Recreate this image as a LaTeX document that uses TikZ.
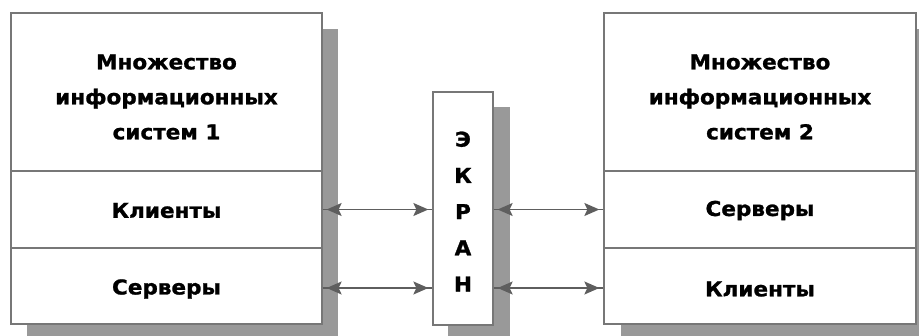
\documentclass[tikz,border=0pt]{standalone}
\usepackage{fontspec}
\newfontfamily\dvs[FakeStretch=1.05,FakeBold=1.2]{DejaVu Sans}
\usetikzlibrary{arrows.meta}
\definecolor{bordergray}{HTML}{777777}
\definecolor{shadowgray}{HTML}{999999}
\definecolor{arrowgray}{HTML}{5E5E5E}
\tikzset{
  cell/.style={draw=bordergray, line width=1.3pt, fill=white, rectangle, inner sep=0pt},
  lbl/.style={font=\dvs\bfseries\fontsize{20.5}{35}\selectfont, align=center, inner sep=0pt},
  conn/.style={draw=arrowgray, line width=1.4pt},
  tips/.style={draw=arrowgray, line width=1.4pt,
    {Stealth[length=15pt,width=13pt,inset=3pt,fill=arrowgray]}-{Stealth[length=15pt,width=13pt,inset=3pt,fill=arrowgray]},
    shorten <=4pt, shorten >=4pt}
}
\begin{document}
\begin{tikzpicture}[x=1pt,y=-1pt]
\useasboundingbox (0,0) rectangle (919,336);
\begin{scope}
\clip (0,0) rectangle (919,336);
% shadows
\fill[shadowgray] (27,29) rectangle (338,342);
\fill[shadowgray] (448,107) rectangle (510,342);
\fill[shadowgray] (621,29) rectangle (932,342);
\end{scope}
% left box
\node[cell, minimum width=311pt, minimum height=158pt] (L1) at (166.5,92) {};
\node[cell, minimum width=311pt, minimum height=77pt] (L2) at (166.5,209.5) {};
\node[cell, minimum width=311pt, minimum height=76pt] (L3) at (166.5,286) {};
% right box
\node[cell, minimum width=312pt, minimum height=158pt] (R1) at (760,92) {};
\node[cell, minimum width=312pt, minimum height=77pt] (R2) at (760,209.5) {};
\node[cell, minimum width=312pt, minimum height=76pt] (R3) at (760,286) {};
% middle
\node[cell, minimum width=60pt, minimum height=233pt] (E) at (463,208.5) {};
% texts
\node[lbl] (t1) at ([yshift=-5pt]L1.center) {Множество\\информационных\\систем 1};
\node[lbl] (t2) at ([yshift=-1pt]L2.center) {Клиенты};
\node[lbl] (t3) at ([yshift=-3pt]L3.center) {Серверы};
\node[lbl] (t4) at ([yshift=-5pt]R1.center) {Множество\\информационных\\систем 2};
\node[lbl] (t5) at ([yshift=-1pt]R2.center) {Серверы};
\node[lbl] (t6) at ([yshift=-3pt]R3.center) {Клиенты};
\node[lbl, font=\dvs\bfseries\fontsize{20.5}{36.2}\selectfont] (t7) at ([yshift=-3pt]E.center) {Э\\К\\Р\\А\\Н};
% connectors
\coordinate (a1) at (L2.east);
\coordinate (b1) at (E.west |- L2.east);
\coordinate (a2) at ([yshift=-2pt]L3.east);
\coordinate (b2) at (E.west |- a2);
\coordinate (c1) at (E.east |- R2.west);
\coordinate (d1) at (R2.west);
\coordinate (c2) at (E.east |- a2);
\coordinate (d2) at (R3.west |- a2);
\foreach \p/\q in {a1/b1, a2/b2, c1/d1, c2/d2} {
  \draw[conn] (\p) -- (\q);
  \draw[tips] (\p) -- (\q);
}
\end{tikzpicture}
\end{document}
